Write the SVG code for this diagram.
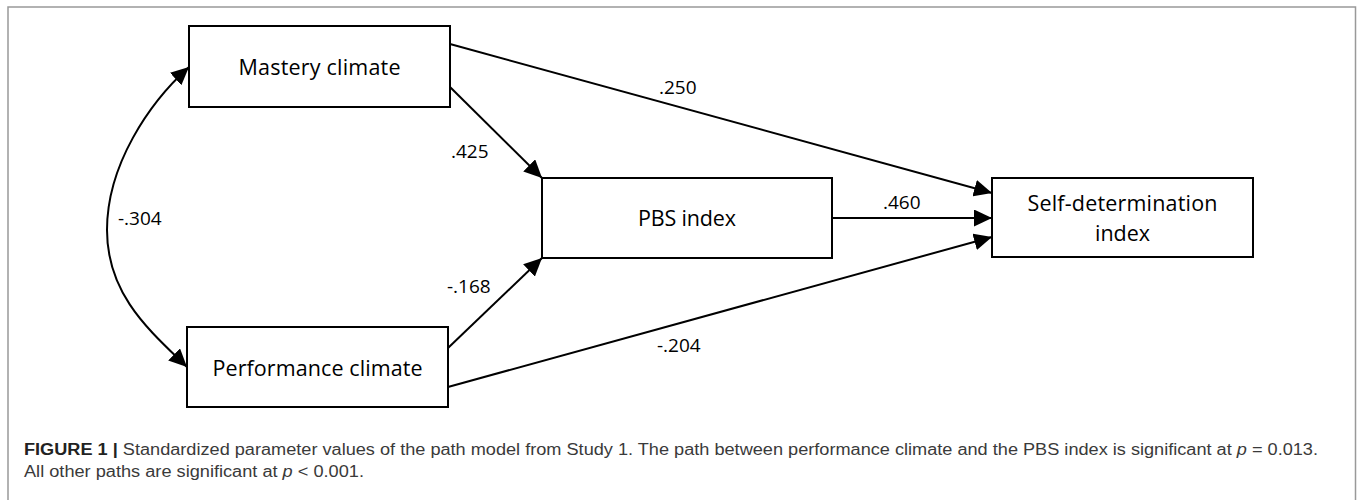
<svg xmlns="http://www.w3.org/2000/svg" width="1358" height="500" viewBox="0 0 1358 500">
<style>
.box{fill:#fff;stroke:#000;stroke-width:2}
.lbl{font-family:"Open Sans","Liberation Sans",sans-serif;font-size:21.5px;fill:#000;text-anchor:middle}
.num{font-family:"Open Sans","Liberation Sans",sans-serif;font-size:19px;fill:#000}
.edge{fill:none;stroke:#000;stroke-width:2}
.cap{font-family:"Liberation Sans",Arial,sans-serif;font-size:16px;fill:#3a3a3a}
</style>
<defs>
<marker id="ah" markerUnits="userSpaceOnUse" markerWidth="19" markerHeight="17" refX="18" refY="8.5" orient="auto">
<path d="M0,0 L18,8.5 L0,17 z" fill="#000"/>
</marker>
<marker id="ahs" markerUnits="userSpaceOnUse" markerWidth="19" markerHeight="17" refX="18" refY="8.5" orient="auto-start-reverse">
<path d="M0,0 L18,8.5 L0,17 z" fill="#000"/>
</marker>
</defs>
<rect x="8" y="7" width="1347.5" height="510" fill="#fff" stroke="#999" stroke-width="1.5"/>
<g id="connectors">
<path class="edge" d="M189,67 C149,103 107,165 107,230 S150,331 187,367" marker-start="url(#ahs)" marker-end="url(#ahs)"/>
<line class="edge" x1="450" y1="44" x2="992" y2="193" marker-end="url(#ah)"/>
<line class="edge" x1="450" y1="87" x2="542" y2="178" marker-end="url(#ah)"/>
<line class="edge" x1="832" y1="218" x2="992" y2="218" marker-end="url(#ah)"/>
<line class="edge" x1="448" y1="348" x2="542" y2="258" marker-end="url(#ah)"/>
<line class="edge" x1="448" y1="387" x2="992" y2="237" marker-end="url(#ah)"/>
<text class="num" x="118" y="225">-.304</text>
<text class="num" x="659" y="94">.250</text>
<text class="num" x="451" y="158">.425</text>
<text class="num" x="883" y="209">.460</text>
<text class="num" x="447" y="293">-.168</text>
<text class="num" x="657" y="352">-.204</text>
</g>
<g id="mastery">
<rect class="box" x="189" y="26" width="261" height="81"/>
<text class="lbl" x="319.5" y="75" textLength="162">Mastery climate</text>
</g>
<g id="performance">
<rect class="box" x="187" y="327" width="261" height="80"/>
<text class="lbl" x="317.5" y="376" textLength="210">Performance climate</text>
</g>
<g id="pbs">
<rect class="box" x="542" y="178" width="290" height="80"/>
<text class="lbl" x="687" y="226" textLength="98">PBS index</text>
</g>
<g id="selfdet">
<rect class="box" x="992" y="178" width="261" height="79"/>
<text class="lbl" x="1122.5" y="211" textLength="190">Self-determination</text>
<text class="lbl" x="1122.5" y="241">index</text>
</g>
<g id="caption">
<text class="cap" x="24" y="455" textLength="1294" lengthAdjust="spacingAndGlyphs"><tspan font-weight="bold" fill="#222">FIGURE 1 |</tspan> Standardized parameter values of the path model from Study 1. The path between performance climate and the PBS index is significant at <tspan font-style="italic">p</tspan> = 0.013.</text>
<text class="cap" x="24" y="477" textLength="340" lengthAdjust="spacingAndGlyphs">All other paths are significant at <tspan font-style="italic">p</tspan> &lt; 0.001.</text>
</g>
</svg>
